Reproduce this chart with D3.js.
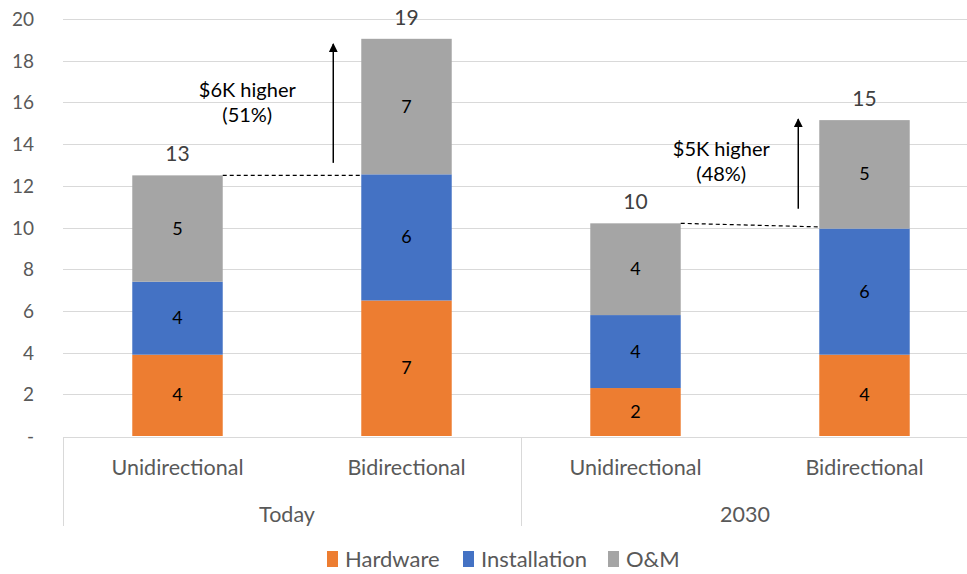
<!DOCTYPE html>
<html>
<head>
<meta charset="utf-8">
<script src="https://cdn.jsdelivr.net/npm/d3@7"></script>
<style>
  body { margin: 0; background: #fff; }
  svg { font-family: Lato, "Open Sans", sans-serif; }
</style>
</head>
<body>
<svg id="chart" width="967" height="574"></svg>
<script>
const svg = d3.select('#chart');

// data (thousand $)
const groups = ['Today', '2030'];
const types = ['Unidirectional', 'Bidirectional'];
const seriesNames = ['Hardware', 'Installation', 'O&M'];
const colors = ['#ED7D31', '#4472C4', '#A5A5A5'];
const hardware = [3.9, 6.5, 2.3, 3.9];
const installation = [3.5, 6.05, 3.5, 6.05];
const om = [5.1, 6.5, 4.4, 5.2];
const yTicks = [0, 2, 4, 6, 8, 10, 12, 14, 16, 18, 20];
const notes = [
  { group: 'Today', lines: ['$6K higher', '(51%)'], from: 13.1, to: 18.8 },
  { group: '2030', lines: ['$5K higher', '(48%)'], from: 10.9, to: 15.2 }
];

const rows = [];
groups.forEach((g, gi) => types.forEach((t, ti) => {
  const i = gi * 2 + ti;
  rows.push({ key: g + '|' + t, group: g, type: t,
    Hardware: hardware[i], Installation: installation[i], 'O&M': om[i] });
}));

const margin = { left: 63, top: 19, bottom: 138 };
const plotRight = 979;
const y = d3.scaleLinear().domain([0, 20]).range([436, margin.top]);
const x = d3.scaleBand().domain(rows.map(d => d.key)).range([margin.left, plotRight]);
const xg = d3.scaleBand().domain(groups).range([margin.left, plotRight]);
const barW = x.bandwidth() * 0.395;
const cx = k => x(k) + x.bandwidth() / 2;

// gridlines
svg.append('g').selectAll('line').data(yTicks.slice(1)).enter().append('line')
  .attr('x1', margin.left).attr('x2', 967)
  .attr('y1', d => Math.round(y(d)) + 0.5).attr('y2', d => Math.round(y(d)) + 0.5)
  .attr('stroke', '#d9d9d9').attr('stroke-width', 1);

// y labels
svg.append('g').selectAll('text').data(yTicks).enter().append('text')
  .attr('x', 34).attr('y', d => y(d) + 7)
  .attr('text-anchor', 'end')
  .attr('font-size', 19).attr('fill', '#595959')
  .text(d => d === 0 ? '-' : d);

// stacked bars
const stack = d3.stack().keys(seriesNames)(rows);
const layers = svg.append('g').selectAll('g').data(stack).enter().append('g')
  .attr('fill', (d, i) => colors[i]);
layers.selectAll('rect').data(d => d).enter().append('rect')
  .attr('x', d => cx(d.data.key) - barW / 2)
  .attr('width', barW)
  .attr('y', d => y(d[1]))
  .attr('height', d => y(d[0]) - y(d[1]));
layers.selectAll('text').data(d => d).enter().append('text')
  .attr('x', d => cx(d.data.key))
  .attr('y', d => (y(d[0]) + y(d[1])) / 2 + 6)
  .attr('text-anchor', 'middle').attr('font-size', 18).attr('fill', '#000')
  .text(d => Math.round(d[1] - d[0]));

// totals
const totals = rows.map(d => ({ key: d.key, v: d.Hardware + d.Installation + d['O&M'] }));
svg.append('g').selectAll('text').data(totals).enter().append('text')
  .attr('x', d => cx(d.key)).attr('y', d => y(d.v) - 14)
  .attr('text-anchor', 'middle').attr('font-size', 21).attr('fill', '#404040')
  .text(d => Math.round(d.v));

// dashed connectors
groups.forEach(g => {
  const uni = rows.find(r => r.group === g && r.type === types[0]);
  const bi = rows.find(r => r.group === g && r.type === types[1]);
  const uniTot = uni.Hardware + uni.Installation + uni['O&M'];
  svg.append('line')
    .attr('x1', cx(uni.key) + barW / 2).attr('y1', y(uniTot))
    .attr('x2', cx(bi.key) - barW / 2).attr('y2', y(g === 'Today' ? uniTot : bi.Hardware + bi.Installation + 0.08))
    .attr('stroke', '#000').attr('stroke-width', 1.2).attr('stroke-dasharray', '4,3');
});

// arrows + notes
svg.append('defs').append('marker')
  .attr('id', 'arrow').attr('viewBox', '0 0 10 10')
  .attr('refX', 9).attr('refY', 5)
  .attr('markerWidth', 6).attr('markerHeight', 6)
  .attr('orient', 'auto')
  .append('path').attr('d', 'M0,0L10,5L0,10z').attr('fill', '#000');

notes.forEach((n, i) => {
  const biKey = n.group + '|' + types[1];
  const ax = cx(biKey) - barW / 2 - (i === 0 ? 28 : 21);
  svg.append('line')
    .attr('x1', ax).attr('x2', ax)
    .attr('y1', y(n.from)).attr('y2', y(n.to))
    .attr('stroke', '#000').attr('stroke-width', 1.5)
    .attr('marker-end', 'url(#arrow)');
  const tx = ax - (i === 0 ? 86 : 77);
  const ty = y(n.to) + (i === 0 ? 53 : 37);
  svg.append('text').attr('text-anchor', 'middle')
    .attr('font-size', 20).attr('fill', '#000')
    .selectAll('tspan').data(n.lines).enter().append('tspan')
    .attr('x', tx).attr('y', (d, j) => ty + j * 25)
    .text(d => d);
});

// category axis
const axisY = 437.5;
svg.append('line').attr('x1', margin.left).attr('x2', 967)
  .attr('y1', axisY).attr('y2', axisY).attr('stroke', '#d9d9d9');
const seps = [margin.left, xg(groups[1]), plotRight];
svg.append('g').selectAll('line').data(seps).enter().append('line')
  .attr('x1', d => Math.round(d) + 0.5).attr('x2', d => Math.round(d) + 0.5)
  .attr('y1', axisY).attr('y2', 526)
  .attr('stroke', '#d9d9d9');
svg.append('g').selectAll('text').data(rows).enter().append('text')
  .attr('x', d => cx(d.key)).attr('y', 475)
  .attr('text-anchor', 'middle').attr('font-size', 21.5).attr('fill', '#595959')
  .text(d => d.type);
svg.append('g').selectAll('text').data(groups).enter().append('text')
  .attr('x', d => xg(d) + xg.bandwidth() / 2 - 5).attr('y', 522)
  .attr('text-anchor', 'middle').attr('font-size', 21.5).attr('fill', '#595959')
  .text(d => d);

// legend
const legendX = [327, 463, 608];
const legend = svg.append('g').selectAll('g').data(seriesNames).enter().append('g')
  .attr('transform', (d, i) => `translate(${legendX[i]}, 551)`);
legend.append('rect').attr('width', 11).attr('height', 16)
  .attr('fill', (d, i) => colors[i]);
legend.append('text').attr('x', 18).attr('y', 16)
  .attr('font-size', 22).attr('fill', '#595959')
  .text(d => d);
</script>
</body>
</html>
